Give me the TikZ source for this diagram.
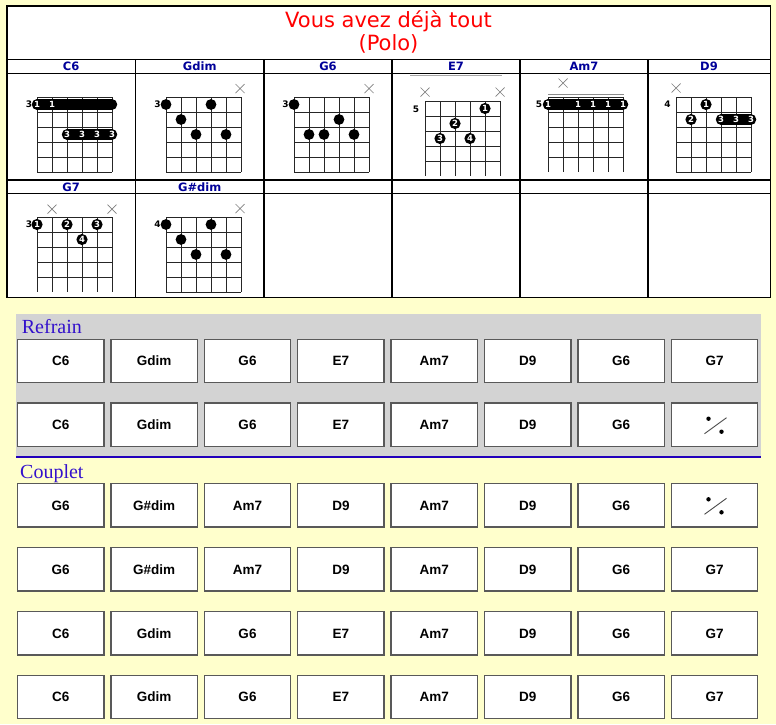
\documentclass[tikz,border=0pt]{standalone}
\usepackage{fontspec}
\setmainfont{Liberation Sans}
\newfontfamily\dejavu{DejaVu Sans}
\newfontfamily\serifont{Liberation Serif}
\definecolor{bgy}{HTML}{FFFFCC}
\definecolor{hdrblue}{HTML}{000099}
\definecolor{panelgray}{HTML}{D3D3D3}
\definecolor{secblue}{HTML}{3311CC}
\definecolor{lineblue}{HTML}{2200BB}
\tikzset{
 gridl/.style={draw=black!85, line width=0.9pt},
 xm/.style={draw=black!50, line width=0.7pt},
 fingtxt/.style={text=white, font=\dejavu\bfseries\fontsize{8.5}{8.5}\selectfont, inner sep=0pt, text height=6.2pt, text depth=0pt},
 fretnum/.style={font=\dejavu\bfseries\fontsize{9}{9}\selectfont, inner sep=0pt, text height=6.6pt, text depth=0pt},
 hdr/.style={font=\dejavu\bfseries\fontsize{11.5}{13}\selectfont, text=hdrblue, inner sep=0pt, text height=8.4pt, text depth=0pt},
 tbl/.style={draw=black, line width=1.2pt},
 chordbox/.style={draw=black!65, fill=white, line width=1.4pt, minimum width=86.5pt, minimum height=43.5pt, inner sep=0pt, text height=9.7pt, text depth=0pt, font=\bfseries\fontsize{13.5}{15}\selectfont},
 sect/.style={font=\serifont\fontsize{20}{22}\selectfont, text=secblue, inner sep=0pt, anchor=base west},
}
\newcommand\cgrid[3]{%
  \foreach \i in {0,...,5}{\draw[gridl] (#1+15*\i,#2) -- (#1+15*\i,#2+75);}
  \foreach \j in {0,...,#3}{\draw[gridl] (#1,#2+15*\j) -- (#1+75,#2+15*\j);}
}
\newcommand\fdot[2]{\fill (#1,#2) circle (5.4);}
\newcommand\fing[3]{\fill (#1,#2) circle (5.6); \node[fingtxt] at (#1,#2) {#3};}
\newcommand\barre[3]{\draw[line width=10.5pt, line cap=round] (#1,#3) -- (#2,#3);}
\newcommand\blab[3]{\node[fingtxt] at (#1,#2) {#3};}
\newcommand\xmk[2]{\draw[xm] (#1-4.5,#2-4.5) -- (#1+4.5,#2+4.5) (#1-4.5,#2+4.5) -- (#1+4.5,#2-4.5);}
\newcommand\fretn[3]{\node[fretnum] at (#1,#2) {#3};}
\newcommand\boxrow[3]{%
  \foreach \c [count=\i from 0] in {#2}{\node[chordbox] (#3-\i) at (60.7+93.4*\i,#1) {\c};}
}
\newcommand\simile[2]{%
  \draw[draw=black!70, line width=0.9pt] (#1-10,#2+9) -- (#1+12,#2-7);
  \fill (#1-6,#2-6) circle (2.2) (#1+7,#2+7) circle (2.2);
}
\begin{document}
\begin{tikzpicture}[x=1pt,y=-1pt]
\useasboundingbox (0,0) rectangle (776,724);
\fill[bgy] (0,0) rectangle (776,724);
% top table
\fill[white] (7,6) rectangle (770.5,297.5);
\draw[tbl] (7,6) rectangle (770.5,297.5);
\foreach \yy in {59.5,73.5,180,193.5}{\draw[tbl] (7,\yy) -- (770.5,\yy);}
\foreach \xx in {135.5,264,392,520,648}{\draw[tbl] (\xx,59.5) -- (\xx,297.5);}
\node[font=\dejavu\fontsize{21}{24}\selectfont, text=red, inner sep=0pt, anchor=base] (title1) at (388.5,27.7) {Vous avez déjà tout};
\node[font=\dejavu\fontsize{21}{24}\selectfont, text=red, inner sep=0pt, anchor=base] (title2) at (388.5,50.5) {(Polo)};
% headers
\node[hdr] (h1) at (71.2,66.5) {C6};
\node[hdr] (h2) at (199.7,66.5) {Gdim};
\node[hdr] (h3) at (328,66.5) {G6};
\node[hdr] (h4) at (456,66.5) {E7};
\node[hdr] (h5) at (584,66.5) {Am7};
\node[hdr] (h6) at (709,66.5) {D9};
\node[hdr] (h7) at (71.2,186.8) {G7};
\node[hdr] (h8) at (199.7,186.8) {G\#dim};
% C6
\cgrid{37}{97}{5}
\fretn{29}{104.5}{3}
\barre{37}{112}{104.5}
\blab{37}{104.5}{1}\blab{52}{104.5}{1}
\barre{67}{112}{134.5}
\blab{67}{134.5}{3}\blab{82}{134.5}{3}\blab{97}{134.5}{3}\blab{112}{134.5}{3}
% Gdim
\cgrid{166}{97}{5}
\fretn{157.5}{104.5}{3}
\fdot{166}{104.5}\fdot{211}{104.5}\fdot{181}{119.5}\fdot{196}{134.5}\fdot{226}{134.5}
\xmk{240}{88.5}
% G6
\cgrid{294}{97}{5}
\fretn{285.5}{104.5}{3}
\fdot{294}{104.5}\fdot{339}{119.5}\fdot{309}{134.5}\fdot{324}{134.5}\fdot{354}{134.5}
\xmk{369}{88.5}
% E7
\draw[draw=black!35, line width=1pt] (410,75.3) -- (502,75.3);
\cgrid{425}{101}{4}
\fretn{416}{109}{5}
\xmk{425}{92}\xmk{500}{92}
\fing{485}{108.5}{1}\fing{455}{123.5}{2}\fing{440}{138.5}{3}\fing{470}{138.5}{4}
% Am7
\draw[draw=black!45, line width=1pt] (548,94) -- (624,94);
\cgrid{548}{97}{4}
\fretn{539}{104.5}{5}
\xmk{563}{83}
\barre{548}{623}{104.5}
\blab{548}{104.5}{1}\blab{578}{104.5}{1}\blab{593}{104.5}{1}\blab{608}{104.5}{1}\blab{623}{104.5}{1}
% D9
\cgrid{676}{97}{5}
\fretn{667.5}{104.5}{4}
\xmk{676}{88}
\fing{706}{104.5}{1}\fing{691}{119.5}{2}
\barre{721}{751}{119.5}
\blab{721}{119.5}{3}\blab{736}{119.5}{3}\blab{751}{119.5}{3}
% G7
\cgrid{37}{217}{4}
\fretn{29}{224.5}{3}
\xmk{52}{209}\xmk{112}{209}
\fing{37}{224.5}{1}\fing{67}{224.5}{2}\fing{97}{224.5}{3}\fing{82}{239.5}{4}
% G#dim
\cgrid{166}{217}{5}
\fretn{157.5}{224.5}{4}
\fdot{166}{224.5}\fdot{211}{224.5}\fdot{181}{239.5}\fdot{196}{254.5}\fdot{226}{254.5}
\xmk{240}{208.5}
% Refrain panel
\fill[panelgray] (16,314) rectangle (761,457);
\draw[lineblue, line width=2.5pt] (16,457) -- (761,457);
\node[sect] (refrain) at (21.7,333.3) {Refrain};
\node[sect] (couplet) at (20,478) {Couplet};
\boxrow{361}{C6,Gdim,G6,E7,Am7,D9,G6,G7}{ra}
\boxrow{424.7}{C6,Gdim,G6,E7,Am7,D9,G6,{}}{rb}
\simile{714.5}{424.7}
\boxrow{505.3}{G6,G\#dim,Am7,D9,Am7,D9,G6,{}}{ca}
\simile{714.5}{505.3}
\boxrow{569.3}{G6,G\#dim,Am7,D9,Am7,D9,G6,G7}{cb}
\boxrow{633.3}{C6,Gdim,G6,E7,Am7,D9,G6,G7}{cc}
\boxrow{697}{C6,Gdim,G6,E7,Am7,D9,G6,G7}{cd}
\end{tikzpicture}
\end{document}
